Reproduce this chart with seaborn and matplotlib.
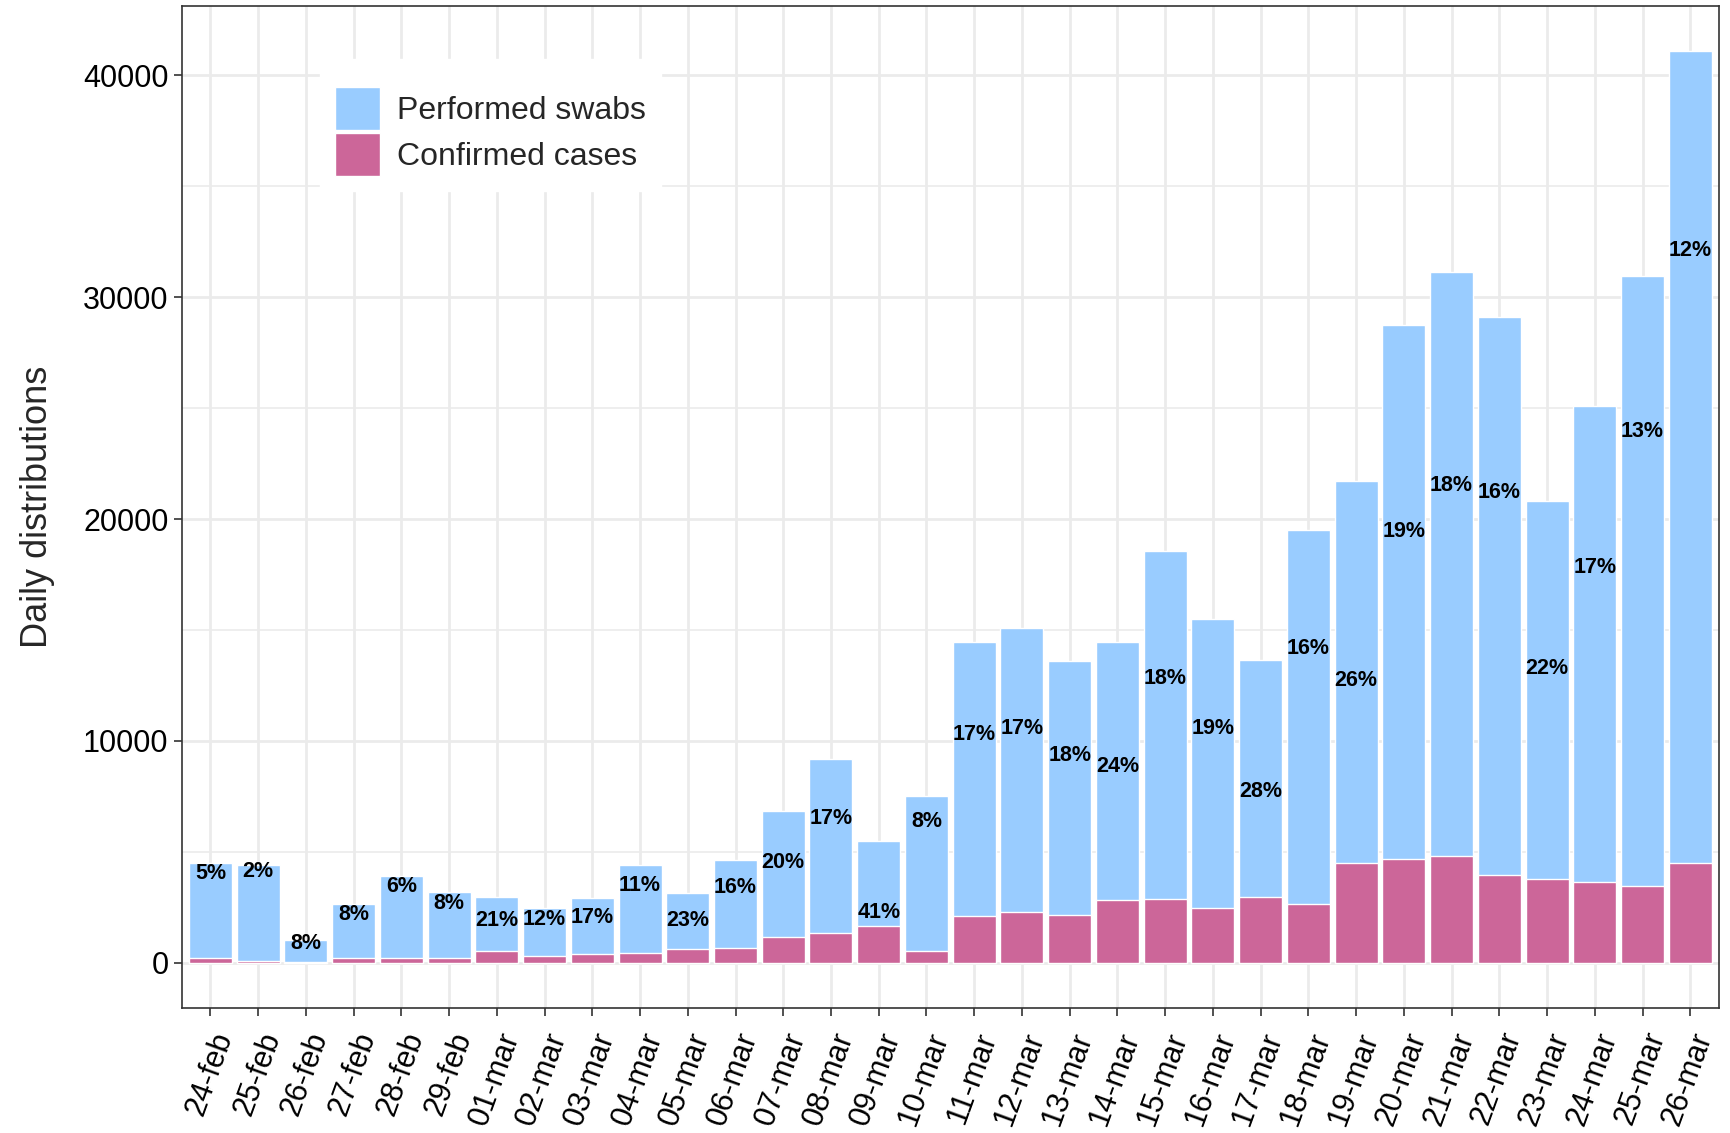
import matplotlib
matplotlib.use("Agg")
import matplotlib.pyplot as plt
import pandas as pd
import seaborn as sns
from matplotlib.patches import Patch
from matplotlib.ticker import MultipleLocator

dates = [
    "24-feb", "25-feb", "26-feb", "27-feb", "28-feb", "29-feb",
    "01-mar", "02-mar", "03-mar", "04-mar", "05-mar", "06-mar",
    "07-mar", "08-mar", "09-mar", "10-mar", "11-mar", "12-mar",
    "13-mar", "14-mar", "15-mar", "16-mar", "17-mar", "18-mar",
    "19-mar", "20-mar", "21-mar", "22-mar", "23-mar", "24-mar",
    "25-mar", "26-mar",
]
swabs = [
    4520, 4420, 1040, 2630, 3920, 3180, 2980, 2490, 2930, 4420, 3130,
    4620, 6860, 9190, 5470, 7500, 14460, 15100, 13610, 14460, 18580,
    15500, 13660, 19530, 21710, 28770, 31160, 29120, 20820, 25090,
    30960, 41090,
]
cases = [
    200, 100, 50, 200, 200, 200, 550, 300, 400, 450, 600, 650, 1150,
    1340, 1640, 550, 2090, 2280, 2140, 2830, 2880, 2480, 2980, 2630,
    4480, 4670, 4820, 3960, 3780, 3630, 3480, 4490,
]
pct_labels = [
    "5%", "2%", "8%", "8%", "6%", "8%", "21%", "12%", "17%", "11%",
    "23%", "16%", "20%", "17%", "41%", "8%", "17%", "17%", "18%", "24%",
    "18%", "19%", "28%", "16%", "26%", "19%", "18%", "16%", "22%", "17%",
    "13%", "12%",
]
label_y = [
    4030, 4120, 850, 2190, 3430, 2680, 1890, 1940, 2040, 3480, 1890,
    3380, 4520, 6510, 2290, 6360, 10290, 10580, 9340, 8850, 12820,
    10580, 7700, 14160, 12720, 19430, 21520, 21220, 13270, 17840,
    23950, 32100,
]

swab_col = "#99CCFF"
case_col = "#CC6699"

df = pd.DataFrame({"date": dates, "swabs": swabs, "cases": cases})

sns.set_style("white")
plt.rcParams["font.family"] = ["Liberation Sans", "DejaVu Sans"]

fig = plt.figure(figsize=(17.31, 11.33), dpi=100)
ax = fig.add_axes([0.105, 0.110, 0.888, 0.885])

sns.barplot(data=df, x="date", y="swabs", order=dates, color=swab_col,
            saturation=1, width=0.9, edgecolor="white", linewidth=1,
            ax=ax, zorder=2)
sns.barplot(data=df, x="date", y="cases", order=dates, color=case_col,
            saturation=1, width=0.9, edgecolor="white", linewidth=1,
            ax=ax, zorder=3)

for i, (lab, yy) in enumerate(zip(pct_labels, label_y)):
    ax.text(i, yy, lab, ha="center", va="center", fontsize=15.5,
            fontweight="bold", color="black", zorder=4)

# ggplot theme_bw look
ax.set_xlim(-0.6, len(dates) - 0.4)
ax.set_ylim(-2054, 43145)
ax.yaxis.set_major_locator(MultipleLocator(10000))
ax.yaxis.set_minor_locator(MultipleLocator(5000))
ax.grid(True, which="major", color="#EBEBEB", linewidth=2, zorder=0)
ax.grid(True, which="minor", axis="y", color="#EBEBEB", linewidth=1.2, zorder=0)
ax.set_axisbelow(True)
for sp in ax.spines.values():
    sp.set_color("#333333")
    sp.set_linewidth(1.2)

ax.tick_params(axis="both", which="major", direction="out", length=6,
               width=1.2, color="#333333", labelsize=22, labelcolor="black",
               bottom=True, left=True)
ax.tick_params(axis="x", which="major", pad=8)
ax.tick_params(axis="y", which="minor", length=0)
ax.set_xticks(range(len(dates)))
ax.set_xticklabels(dates, rotation=70, ha="right", va="top",
                   rotation_mode="anchor")

ax.set_xlabel("")
ax.set_ylabel("Daily distributions", fontsize=26, labelpad=20)

handles = [Patch(facecolor=swab_col, label="Performed swabs"),
           Patch(facecolor=case_col, label="Confirmed cases")]
leg = ax.legend(handles=handles, loc="upper left", title=" ",
                title_fontsize=8,
                bbox_to_anchor=(0.09, 0.947), fontsize=23, frameon=True,
                fancybox=False, handlelength=1.38, handleheight=1.67,
                labelspacing=0.1, borderpad=0.48, handletextpad=0.55,
                borderaxespad=0)
leg.get_frame().set_facecolor("white")
leg.get_frame().set_edgecolor("white")
leg.get_frame().set_alpha(1)

fig.savefig("out.png", dpi=100)
